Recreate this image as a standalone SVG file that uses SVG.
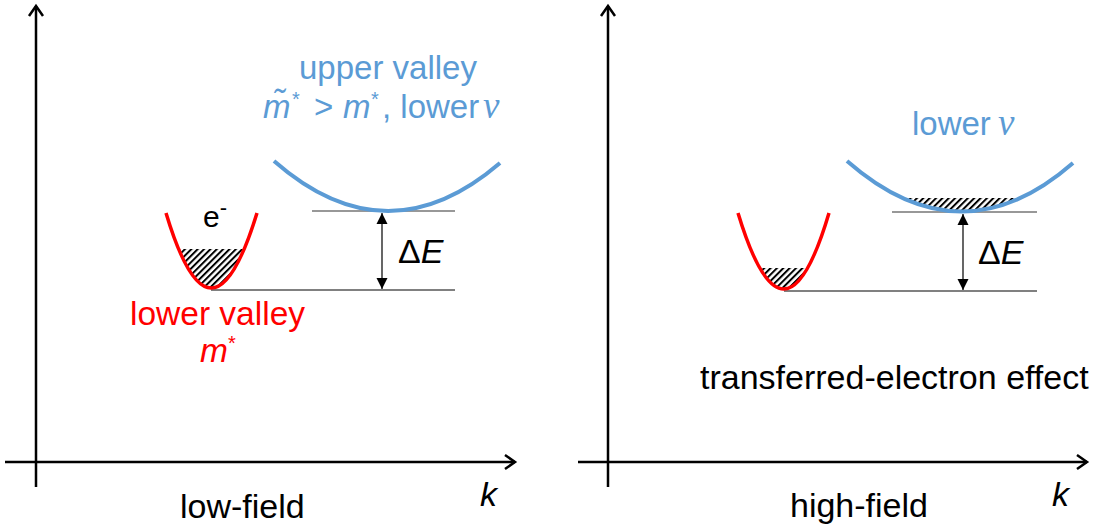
<svg xmlns="http://www.w3.org/2000/svg" width="1095" height="529" viewBox="0 0 1095 529">
<style>
text{font-family:"Liberation Sans",Arial,sans-serif;}
.ax{stroke:#000;stroke-width:2.5;fill:none;}
.lvl1{stroke:#333;stroke-width:1.2;}
.lvl0{stroke:#808080;stroke-width:2;}
.de{stroke:#000;stroke-width:1.2;}
.red{stroke:#ff0000;stroke-width:3.5;fill:none;}
.blue{stroke:#5b9bd5;stroke-width:4;fill:none;}
.tb{font-size:33px;fill:#5b9bd5;}
.tr{font-size:33.5px;fill:#ff0000;}
.tk{font-size:34px;fill:#000;}
.it{font-style:italic;}
.vv{font-family:"Liberation Serif",serif;font-style:italic;font-size:37px;}
</style>
<defs>
<marker id="open" markerUnits="userSpaceOnUse" markerWidth="20" markerHeight="20" viewBox="-12 -10 14 20" refX="0" refY="0" orient="auto">
<path d="M-10,-7 L0,0 L-10,7" fill="none" stroke="#000" stroke-width="2.5"/>
</marker>
<marker id="tri" markerUnits="userSpaceOnUse" markerWidth="14" markerHeight="14" viewBox="-12 -7 13 14" refX="0" refY="0" orient="auto-start-reverse">
<path d="M0,0 L-11,-5.5 L-11,5.5 Z" fill="#000"/>
</marker>
<pattern id="hatch" width="4.5" height="4.5" patternUnits="userSpaceOnUse" patternTransform="rotate(45)">
<rect width="4.5" height="4.5" fill="#fff"/>
<line x1="1" y1="0" x2="1" y2="4.5" stroke="#000" stroke-width="2"/>
</pattern>
<clipPath id="cL"><path d="M166,213 Q211,363 257,213 Z"/></clipPath>
<clipPath id="cR"><path d="M738,213 Q784,365 829,213 Z"/></clipPath>
<clipPath id="cB"><path d="M847,161 Q961,261 1073,163 Z"/></clipPath>
</defs>
<rect width="1095" height="529" fill="#fff"/>

<g id="axes">
<line class="ax" x1="36" y1="487" x2="36" y2="6" marker-end="url(#open)"/>
<line class="ax" x1="5" y1="462" x2="515" y2="462" marker-end="url(#open)"/>
<line class="ax" x1="608" y1="487" x2="608" y2="6" marker-end="url(#open)"/>
<line class="ax" x1="578" y1="462" x2="1087" y2="462" marker-end="url(#open)"/>
</g>

<g id="connectors">
<line class="lvl1" x1="312" y1="211" x2="455" y2="211"/>
<line class="lvl0" x1="211" y1="290" x2="455" y2="290"/>
<line class="de" x1="382" y1="213" x2="382" y2="289" marker-start="url(#tri)" marker-end="url(#tri)"/>
<line class="lvl1" x1="892" y1="212" x2="1037" y2="212"/>
<line class="lvl0" x1="784" y1="291" x2="1037" y2="291"/>
<line class="de" x1="963" y1="214" x2="963" y2="290" marker-start="url(#tri)" marker-end="url(#tri)"/>
</g>

<g id="lower-valley-low">
<rect x="160" y="249" width="105" height="50" fill="url(#hatch)" clip-path="url(#cL)"/>
<path class="red" d="M166,213 Q211,363 257,213"/>
<text class="tk" x="203" y="227" style="font-size:30px">e<tspan dy="-12" style="font-size:22px">-</tspan></text>
<text class="tr" x="130" y="325">lower valley</text>
<text class="tr" x="200" y="362"><tspan class="it">m</tspan><tspan x="228" dy="-12" style="font-size:20px">*</tspan></text>
</g>

<g id="upper-valley-low">
<path class="blue" d="M274,161 Q387,260 500,163"/>
<text class="tb" x="299" y="79">upper valley</text>
<text class="tb" x="263" y="118"><tspan class="it">m&#x303;</tspan><tspan x="292" dy="-12" style="font-size:20px">*</tspan><tspan x="314" dy="12">&gt;</tspan><tspan x="343" class="it">m</tspan><tspan x="371" dy="-12" style="font-size:20px">*</tspan><tspan x="382" dy="12">, lower</tspan><tspan x="483" class="vv">v</tspan></text>
<text class="tk" x="398" y="263">Δ<tspan class="it">E</tspan></text>
</g>

<g id="lower-valley-high">
<rect x="730" y="268" width="105" height="30" fill="url(#hatch)" clip-path="url(#cR)"/>
<path class="red" d="M738,213 Q784,365 829,213"/>
</g>

<g id="upper-valley-high">
<rect x="880" y="198" width="170" height="20" fill="url(#hatch)" clip-path="url(#cB)"/>
<path class="blue" d="M847,161 Q961,261 1073,163"/>
<text class="tb" x="912" y="135">lower<tspan x="998" class="vv">v</tspan></text>
<text class="tk" x="978" y="264">Δ<tspan class="it">E</tspan></text>
</g>

<g id="labels">
<text class="tk" x="180" y="518">low-field</text>
<text class="tk" x="790" y="517">high-field</text>
<text class="tk it" x="480" y="506">k</text>
<text class="tk it" x="1052" y="506">k</text>
<text class="tk" x="700" y="389">transferred-electron effect</text>
</g>
</svg>
